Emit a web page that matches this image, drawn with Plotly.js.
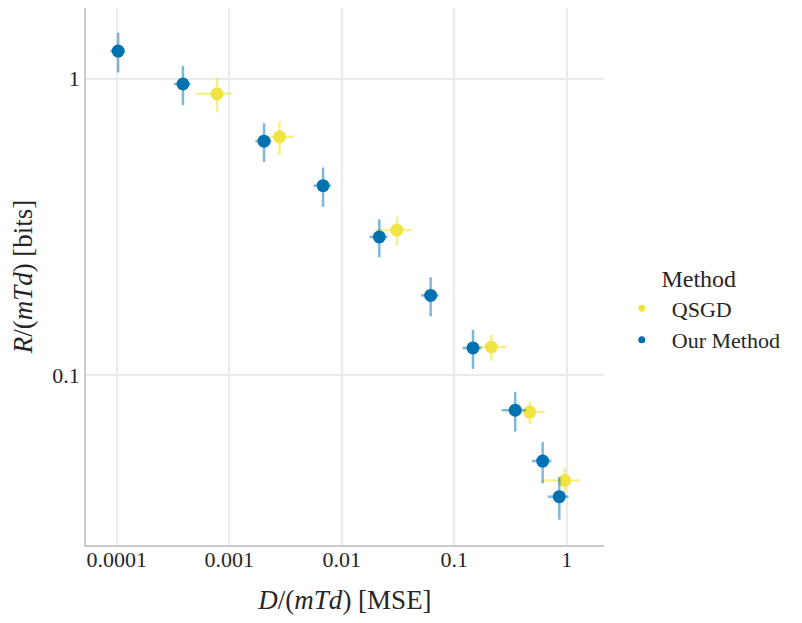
<!DOCTYPE html>
<html>
<head>
<meta charset="utf-8">
<script src="https://cdn.plot.ly/plotly-3.0.1.min.js"></script>
<style>
  body { margin: 0; background: #fff; }
  #chart { width: 802px; height: 623px; }
</style>
</head>
<body>
<div id="chart"></div>
<script>
// QSGD
var qsgdD = [0.00078, 0.0028, 0.031, 0.214, 0.47, 0.96];
var qsgdR = [0.89, 0.637, 0.309, 0.1246, 0.0752, 0.0442];
var qsgdDErr = [0.00027, 0.00095, 0.011, 0.075, 0.165, 0.35];
var qsgdRErr = [0.12, 0.083, 0.034, 0.0125, 0.0065, 0.0044];

// Our Method
var oursD = [0.000103, 0.000388, 0.00204, 0.00683, 0.0216, 0.0618, 0.147, 0.349, 0.612, 0.86];
var oursR = [1.24, 0.96, 0.616, 0.436, 0.293, 0.186, 0.1237, 0.0763, 0.0514, 0.039];
var oursDErr = [0.000015, 0.000066, 0.00033, 0.0012, 0.0039, 0.011, 0.028, 0.085, 0.12, 0.18];
var oursRErr = [0.19, 0.145, 0.092, 0.066, 0.043, 0.028, 0.0186, 0.0117, 0.0082, 0.0064];

var xTicks = [0.0001, 0.001, 0.01, 0.1, 1];
var xTickText = ["0.0001", "0.001", "0.01", "0.1", "1"];
var yTicks = [0.1, 1];
var yTickText = ["0.1", "1"];

var yellow = "#F0E442", blue = "#0072B2";
var serif = "Liberation Serif";

function pointTrace(x, y, ex, ey, color, errColor){
    return {
        x: x, y: y,
        mode: "markers", type: "scatter",
        showlegend: false,
        marker: {color: color, size: 13},
        error_x: {type: "data", array: ex, color: errColor, thickness: 2.5, width: 0},
        error_y: {type: "data", array: ey, color: errColor, thickness: 2.5, width: 0}
    };
}

function legendTrace(name, color){
    return {
        x: [null], y: [null], name: name,
        mode: "markers", type: "scatter",
        marker: {color: color, size: 7}
    };
}

var data = [
    pointTrace(qsgdD, qsgdR, qsgdDErr, qsgdRErr, yellow, "rgba(240,228,66,0.6)"),
    pointTrace(oursD, oursR, oursDErr, oursRErr, blue, "rgba(0,114,178,0.5)"),
    legendTrace("QSGD", yellow),
    legendTrace("Our Method", blue)
];

var layout = {
    width: 802, height: 623,
    margin: {l: 86, r: 198, t: 8, b: 78},
    paper_bgcolor: "#fff", plot_bgcolor: "#fff",
    font: {family: serif, color: "#262626", size: 22},
    xaxis: {
        type: "log", range: [-4.273, 0.332],
        tickvals: xTicks, ticktext: xTickText,
        showgrid: true, gridcolor: "#ebebeb", gridwidth: 1.5,
        showline: true, linecolor: "#cccccc", linewidth: 1.5,
        zeroline: false, ticks: "", ticklabelstandoff: -6,
        title: {text: "<i>D</i>/(<i>mTd</i>) [MSE]", font: {size: 27}, standoff: 19}
    },
    yaxis: {
        type: "log", range: [-1.572, 0.2386],
        tickvals: yTicks, ticktext: yTickText,
        showgrid: true, gridcolor: "#ebebeb", gridwidth: 1.5,
        showline: true, linecolor: "#cccccc", linewidth: 1.5,
        zeroline: false, ticks: "",
        title: {text: "<i>R</i>/(<i>mTd</i>) [bits]", font: {size: 27}, standoff: 12}
    },
    legend: {
        x: 1.015, xanchor: "left", y: 0.44, yanchor: "middle",
        bgcolor: "rgba(0,0,0,0)",
        itemwidth: 50,
        font: {size: 22},
        title: {text: "Method", font: {size: 24}, side: "top center"}
    }
};

Plotly.newPlot("chart", data, layout, {displayModeBar: false});
</script>
</body>
</html>
